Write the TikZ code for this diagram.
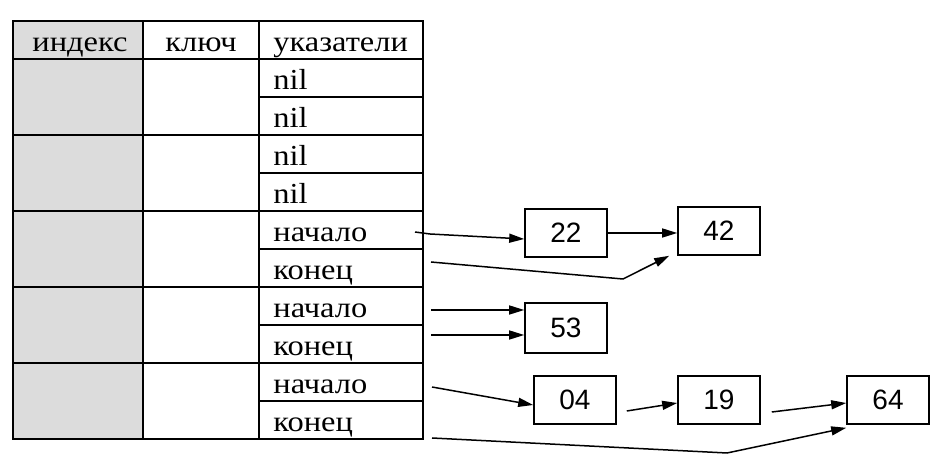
\documentclass[tikz,border=0pt]{standalone}
\usepackage{fontspec}
\setmainfont{Liberation Serif}[FakeStretch=1.12]
\setsansfont{Liberation Sans}
\usepackage{xcolor}
\usetikzlibrary{arrows.meta,calc}
\definecolor{idxgray}{RGB}{220,220,220}
\tikzset{
	grid/.style={line width=1pt},
	ptr/.style={anchor=base west,inner sep=0pt,font=\fontsize{14.5}{16}\selectfont},
	head/.style={anchor=base,inner sep=0pt,font=\fontsize{14.5}{16}\selectfont},
	elem/.style={draw,line width=0.8pt,minimum width=41pt,minimum height=24pt,inner sep=0pt,font=\sffamily\fontsize{14}{16}\selectfont},
	arr/.style={-{Triangle[length=7.5pt,width=4.5pt]},line width=0.75pt}
}

\begin{document}
\begin{tikzpicture}[x=0.5pt,y=-0.5pt]
	\useasboundingbox (0,0) rectangle (944,464);
	% table
	\fill[idxgray] (13,21) rectangle (143,439);
	\draw[grid] (13,21) rectangle (423,439);
	\draw[grid] (143,21) -- (143,439);
	\draw[grid] (259,21) -- (259,439);
	\foreach \y in {59,135,211,287,363}
		\draw[grid] (13,\y) -- (423,\y);
	\foreach \y in {97,173,249,325,401}
		\draw[grid] (259,\y) -- (423,\y);
	% header
	\node[head] (hidx) at (80,52) {индекс};
	\node[head] (hkey) at (201,52) {ключ};
	\node[ptr] (hptr) at (273,52) {указатели};
	% pointer cells
	\foreach \t [count=\i] in {nil,nil,nil,nil,начало,конец,начало,конец,начало,конец}
		\node[ptr] (p\i) at (273,{59+38*\i-7}) {\t};
	% list elements
	\node[elem] (n22) at (566,233) {22};
	\node[elem] (n42) at (719,231) {42};
	\node[elem,minimum height=25pt] (n53) at (566,328) {53};
	\node[elem] (n04) at (575,400) {04};
	\node[elem] (n19) at (719,400) {19};
	\node[elem] (n64) at (888,400) {64};
	% start points
	\coordinate (s5) at (415,232);
	\coordinate (s6) at (431,262);
	\coordinate (s7) at (431,310);
	\coordinate (s8) at (431,335);
	\coordinate (s9) at (432,387);
	\coordinate (s10) at (432,438);
	\coordinate (k6) at (623,279);
	\coordinate (k10) at (727,453);
	%
	\draw[arr] (s5) -- (430,234) -- ($(n22.west)+(0,6)$);
	\draw[arr] (s6) -- (k6) -- ($(n42.south west)+(-8,0)$);
	\draw[arr] (s10) -- (k10) -- ($(n64.south west)+(0,3)$);
	\path[arr]
	% pointers
	(s7) edge (s7 -| n53.west)
	(s8) edge (s8 -| n53.west)
	(s9) edge ($(n04.west)+(0,5)$)
	% links
	(n22.east) edge (n22.east -| n42.west)
	($(n04.east)+(10,11)$) edge ($(n19.west)+(0,3)$)
	($(n19.east)+(11,12)$) edge ($(n64.west)+(0,3)$);
\end{tikzpicture}
\end{document}
